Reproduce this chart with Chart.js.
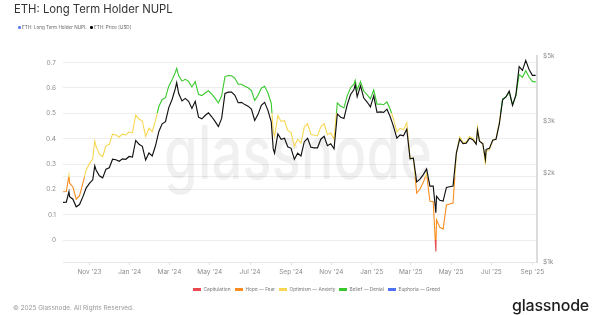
<!DOCTYPE html>
<html>
<head>
<meta charset="utf-8">
<script src="https://cdn.jsdelivr.net/npm/chart.js@4.4.1/dist/chart.umd.min.js"></script>
<style>
  html, body { margin: 0; padding: 0; background: #fff; }
  #wrap { position: relative; width: 600px; height: 315px; overflow: hidden; font-family: Inter, "Noto Sans", sans-serif; }
  #wrap canvas { position: absolute; left: 0; top: 0; }
  .title { position: absolute; left: 14px; top: 2px; font-size: 11.3px; color: #333; white-space: nowrap; }
  .lg { position: absolute; font-size: 4.6px; color: #666; white-space: nowrap; line-height: 6px; }
  .dot { display: inline-block; width: 2.6px; height: 2.6px; border-radius: 50%; margin-right: 1.5px; vertical-align: 0.3px; }
  .zone { position: absolute; top: 286px; font-size: 4.8px; color: #777; white-space: nowrap; line-height: 6px; }
  .zone i { display: inline-block; width: 7.5px; height: 3.6px; margin-right: 3px; vertical-align: -0.2px; }
  .copy { position: absolute; left: 13px; top: 304px; font-size: 6.4px; color: #999; white-space: nowrap; }
  .logo { position: absolute; left: 512px; top: 295px; font-size: 16px; font-weight: 500; color: #1d1d1d; letter-spacing: -0.2px; white-space: nowrap; }
</style>
</head>
<body>
<div id="wrap">
  <canvas id="nuplChart" width="600" height="315"></canvas>
  <div class="title">ETH: Long Term Holder NUPL</div>
  <div class="lg" style="left:18px; top:25px;"><span class="dot" style="background:#5b7cf6"></span>ETH: Long Term Holder NUPL</div>
  <div class="lg" style="left:90px; top:25px;"><span class="dot" style="background:#000"></span>ETH: Price [USD]</div>
  <div id="zones"></div>
  <div class="copy">© 2025 Glassnode. All Rights Reserved.</div>
  <div class="logo">glassnode</div>
</div>
<script>
// ----- data -----

const dates = [
  "2023-09-22","2023-09-27","2023-10-01","2023-10-02","2023-10-07","2023-10-12","2023-10-17","2023-10-22","2023-10-27",
  "2023-11-01","2023-11-06","2023-11-09","2023-11-11","2023-11-16","2023-11-21","2023-11-26","2023-12-01","2023-12-06",
  "2023-12-11","2023-12-16","2023-12-21","2023-12-26","2023-12-31","2024-01-05","2024-01-10","2024-01-15","2024-01-20",
  "2024-01-25","2024-01-30","2024-02-04","2024-02-09","2024-02-14","2024-02-19","2024-02-24","2024-02-29","2024-03-05",
  "2024-03-10","2024-03-12","2024-03-15","2024-03-20","2024-03-25","2024-03-30","2024-04-04","2024-04-09","2024-04-14",
  "2024-04-19","2024-04-24","2024-04-29","2024-05-04","2024-05-09","2024-05-14","2024-05-19","2024-05-24","2024-05-29",
  "2024-06-03","2024-06-08","2024-06-13","2024-06-18","2024-06-23","2024-06-28","2024-07-03","2024-07-08","2024-07-13",
  "2024-07-18","2024-07-23","2024-07-28","2024-08-02","2024-08-05","2024-08-07","2024-08-12","2024-08-17","2024-08-22",
  "2024-08-27","2024-09-01","2024-09-06","2024-09-11","2024-09-16","2024-09-21","2024-09-26","2024-10-01","2024-10-06",
  "2024-10-11","2024-10-16","2024-10-21","2024-10-26","2024-10-31","2024-11-05","2024-11-10","2024-11-15","2024-11-20",
  "2024-11-25","2024-11-30","2024-12-05","2024-12-07","2024-12-10","2024-12-15","2024-12-20","2024-12-25","2024-12-30",
  "2025-01-04","2025-01-09","2025-01-14","2025-01-19","2025-01-24","2025-01-29","2025-02-03","2025-02-08","2025-02-13",
  "2025-02-18","2025-02-23","2025-02-28","2025-03-05","2025-03-10","2025-03-15","2025-03-20","2025-03-25","2025-03-30",
  "2025-04-04","2025-04-08","2025-04-09","2025-04-14","2025-04-19","2025-04-24","2025-04-29","2025-05-04","2025-05-09",
  "2025-05-14","2025-05-19","2025-05-24","2025-05-29","2025-06-03","2025-06-08","2025-06-10","2025-06-13","2025-06-18",
  "2025-06-22","2025-06-23","2025-06-28","2025-07-03","2025-07-08","2025-07-13","2025-07-18","2025-07-23","2025-07-28",
  "2025-08-02","2025-08-07","2025-08-12","2025-08-17","2025-08-22","2025-08-27","2025-09-01","2025-09-06"
];

const nuplValues = [
  0.191,0.192,0.256,0.225,0.210,0.162,0.176,0.224,0.276,
  0.302,0.321,0.391,0.370,0.340,0.329,0.372,0.378,0.418,
  0.415,0.407,0.418,0.415,0.427,0.423,0.493,0.478,0.470,
  0.409,0.441,0.428,0.472,0.527,0.555,0.562,0.607,0.632,
  0.662,0.677,0.648,0.627,0.634,0.626,0.604,0.625,0.575,
  0.570,0.580,0.589,0.576,0.560,0.541,0.569,0.645,0.649,
  0.648,0.638,0.615,0.615,0.607,0.601,0.590,0.551,0.571,
  0.599,0.607,0.580,0.540,0.430,0.410,0.491,0.468,0.471,
  0.433,0.424,0.370,0.398,0.383,0.446,0.459,0.418,0.414,
  0.411,0.448,0.459,0.416,0.424,0.398,0.541,0.528,0.522,
  0.570,0.601,0.615,0.630,0.593,0.625,0.587,0.574,0.557,
  0.592,0.536,0.537,0.534,0.545,0.516,0.477,0.427,0.441,
  0.435,0.463,0.323,0.325,0.186,0.202,0.229,0.262,0.154,
  0.153,-0.044,0.081,0.051,0.044,0.139,0.143,0.147,0.339,
  0.407,0.385,0.387,0.409,0.402,0.380,0.444,0.393,0.381,
  0.299,0.351,0.356,0.395,0.399,0.466,0.557,0.565,0.584,
  0.534,0.568,0.653,0.642,0.668,0.643,0.626,0.624
];

const priceValues = [
  1594,1597,1733,1665,1633,1539,1566,1663,1781,
  1847,1900,2120,2052,1960,1930,2064,2087,2232,
  2224,2197,2239,2231,2281,2268,2585,2510,2470,
  2218,2343,2290,2484,2773,2943,2992,3340,3560,
  3880,4060,3730,3520,3590,3510,3320,3510,3100,
  3060,3140,3210,3110,3000,2880,3070,3730,3770,
  3770,3680,3470,3480,3420,3380,3300,3020,3170,
  3400,3480,3270,2990,2420,2340,2720,2610,2630,
  2460,2430,2230,2340,2290,2560,2630,2450,2440,
  2440,2610,2670,2480,2520,2420,3180,3100,3070,
  3420,3700,3840,4000,3640,3960,3600,3490,3360,
  3660,3220,3230,3220,3300,3110,2880,2630,2700,
  2680,2820,2240,2250,1870,1910,1980,2070,1810,
  1810,1470,1670,1620,1610,1790,1800,1810,2340,
  2610,2520,2530,2630,2600,2510,2800,2570,2520,
  2230,2410,2430,2590,2610,2940,3550,3630,3800,
  3400,3680,4600,4470,4830,4500,4300,4300
];

const xTickDates = ["2023-11-01","2024-01-01","2024-03-01","2024-05-01","2024-07-01","2024-09-01",
                    "2024-11-01","2025-01-01","2025-03-01","2025-05-01","2025-07-01","2025-09-01"];
const monthNames = ["Jan","Feb","Mar","Apr","May","Jun","Jul","Aug","Sep","Oct","Nov","Dec"];
const nuplTicks  = [0, 0.1, 0.2, 0.25, 0.3, 0.4, 0.5, 0.6, 0.7];
const priceTicks = [1000, 2000, 3000, 5000];

// zones of the NUPL line, colour by value
const zoneNames  = ["Capitulation", "Hope — Fear", "Optimism — Anxiety", "Belief — Denial", "Euphoria — Greed"];
const zoneColors = ["#ea4a4f", "#f98d1f", "#f7d752", "#37c92c", "#4f70f2"];
const zoneBounds = [0, 0.25, 0.5, 0.75];
const zoneLegendX = [193, 235, 279, 339, 388];

// ----- zone legend -----
const zonesEl = document.getElementById("zones");
zoneNames.forEach((name, i) => {
  const d = document.createElement("div");
  d.className = "zone";
  d.style.left = zoneLegendX[i] + "px";
  d.innerHTML = `<i style="background:${zoneColors[i]}"></i>${name}`;
  zonesEl.appendChild(d);
});

const fmtMonth = v => {
  const d = new Date(v);
  return `${monthNames[d.getUTCMonth()]} '${String(d.getUTCFullYear()).slice(2)}`;
};

// vertical gradient with hard stops, so every piece of line gets its zone colour
function zoneGradient(context) {
  const chart = context.chart;
  if (!chart.chartArea) return zoneColors[2];
  const ys = chart.scales.y;
  const lo = -0.2, hi = 0.9;
  const g = chart.ctx.createLinearGradient(0, ys.getPixelForValue(lo), 0, ys.getPixelForValue(hi));
  const f = v => (v - lo) / (hi - lo);
  g.addColorStop(0, zoneColors[0]);
  zoneBounds.forEach((b, i) => {
    g.addColorStop(f(b), zoneColors[i]);
    g.addColorStop(f(b), zoneColors[i + 1]);
  });
  g.addColorStop(1, zoneColors[4]);
  return g;
}

const watermark = {
  id: "watermark",
  beforeDatasetsDraw(chart) {
    const { ctx } = chart;
    ctx.save();
    ctx.font = "500 74px Inter";
    ctx.fillStyle = "rgba(0,0,0,0.06)";
    ctx.textBaseline = "alphabetic";
    const w = ctx.measureText("glassnode").width;
    ctx.translate(164, 179);
    ctx.scale(268 / w, 1);
    ctx.fillText("glassnode", 0, 0);
    ctx.restore();
  }
};

const tickFont = { family: "Inter", size: 6.5 };
const tickColor = "#8d8d8d";

new Chart(document.getElementById("nuplChart"), {
  type: "line",
  data: {
    datasets: [
      {
        label: "ETH: Price [USD]",
        data: dates.map((d, i) => ({ x: Date.parse(d), y: priceValues[i] })),
        yAxisID: "y1",
        borderColor: "#111",
        borderWidth: 1.15,
        pointRadius: 0,
        tension: 0,
        order: 0
      },
      {
        label: "ETH: Long Term Holder NUPL",
        data: dates.map((d, i) => ({ x: Date.parse(d), y: nuplValues[i] })),
        yAxisID: "y",
        borderColor: zoneGradient,
        borderWidth: 1.1,
        pointRadius: 0,
        tension: 0,
        order: 1
      }
    ]
  },
  options: {
    responsive: false,
    animation: false,
    devicePixelRatio: 1,
    layout: { padding: { top: 56, bottom: 33, left: 0, right: 0 } },
    plugins: { legend: { display: false }, tooltip: { enabled: false } },
    scales: {
      x: {
        type: "linear",
        min: Date.parse("2023-09-22"),
        max: Date.parse("2025-09-08"),
        afterBuildTicks: s => { s.ticks = xTickDates.map(d => ({ value: Date.parse(d) })); },
        afterFit: s => { s.height = 20; },
        grid: { drawOnChartArea: false, drawTicks: true, tickLength: 3, color: "#dedede" },
        border: { display: true, color: "#e6e6e6" },
        ticks: { callback: v => fmtMonth(v), font: tickFont, color: tickColor, padding: 3, maxRotation: 0, autoSkip: false }
      },
      y: {
        type: "linear",
        position: "left",
        min: -0.0855,
        max: 0.726,
        afterBuildTicks: s => { s.ticks = nuplTicks.map(v => ({ value: v })); },
        afterFit: s => { s.width = 63; },
        grid: { color: "#ededed", drawTicks: false },
        border: { display: false },
        ticks: {
          callback: v => (v === 0.25 ? "" : v === 0 ? "0" : v.toFixed(1)),
          font: tickFont, color: tickColor, padding: 7, autoSkip: false
        }
      },
      y1: {
        type: "logarithmic",
        position: "right",
        min: 1000,
        max: 5000,
        afterBuildTicks: s => { s.ticks = priceTicks.map(v => ({ value: v })); },
        afterFit: s => { s.width = 63; },
        grid: { drawOnChartArea: false, drawTicks: false },
        border: { display: true, color: "#dcdcdc", width: 2 },
        ticks: { callback: v => "$" + v / 1000 + "k", font: tickFont, color: tickColor, padding: 6, autoSkip: false }
      }
    }
  },
  plugins: [watermark]
});
</script>
</body>
</html>
